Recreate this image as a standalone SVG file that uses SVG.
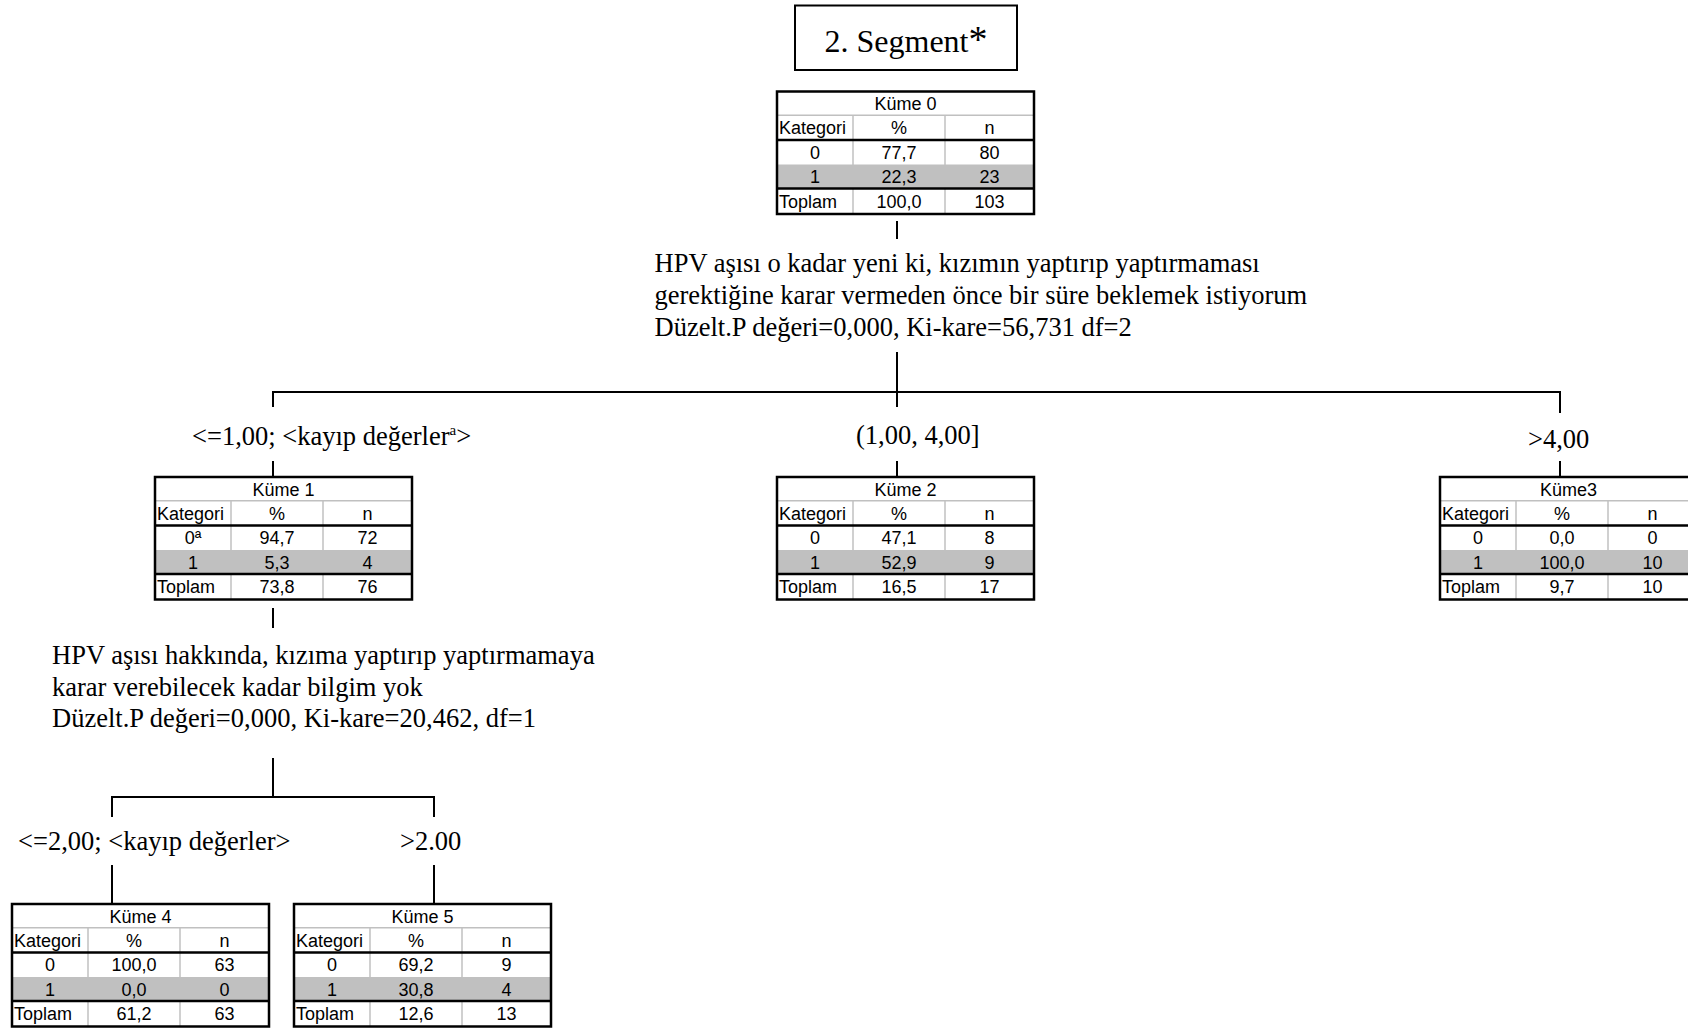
<svg xmlns="http://www.w3.org/2000/svg" xmlns:xlink="http://www.w3.org/1999/xlink" width="1688" height="1028" viewBox="0 0 1688 1028">
  <style>
    .t { font-family: "Liberation Sans", Arial, sans-serif; font-size: 18px; fill: #000; }
    .c { text-anchor: middle; }
    .s { font-family: "Liberation Serif", "Times New Roman", serif; font-size: 26.5px; fill: #000; }
    .ln { stroke: #000; stroke-width: 2; fill: none; }
    .thin { stroke: #c0c0c0; stroke-width: 1.5; }
    .thick { stroke: #000; stroke-width: 2.5; }
  </style>
  <defs>
    <!-- cluster table frame: header, column titles, two category rows, total -->
    <g id="frame">
      <rect x="0" y="0" width="257" height="122.5" fill="#fff"/>
      <rect x="0" y="73" width="257" height="24" fill="#c0c0c0"/>
      <line class="thin" x1="0" y1="23.7" x2="257" y2="23.7"/>
      <line class="thin" x1="76" y1="23.7" x2="76" y2="122.5"/>
      <line class="thin" x1="168" y1="23.7" x2="168" y2="122.5"/>
      <line class="thick" x1="0" y1="48.4" x2="257" y2="48.4"/>
      <line class="thick" x1="0" y1="97" x2="257" y2="97"/>
      <rect x="0" y="0" width="257" height="122.5" fill="none" stroke="#000" stroke-width="2.5"/>
    </g>
  </defs>

  <!-- title -->
  <g id="title">
    <rect x="795" y="5.5" width="222" height="64.5" fill="#fff" stroke="#000" stroke-width="2"/>
    <text x="906" y="52" text-anchor="middle" font-family="Liberation Serif, Times New Roman, serif" font-size="32">2. Segment<tspan font-size="38">*</tspan></text>
  </g>

  <!-- connectors -->
  <g id="connectors">
    <line class="ln" x1="897" y1="221" x2="897" y2="239"/>
    <line class="ln" x1="897" y1="352" x2="897" y2="392"/>
    <line class="ln" x1="272" y1="392" x2="1561" y2="392"/>
    <line class="ln" x1="273" y1="392" x2="273" y2="407"/>
    <line class="ln" x1="897" y1="392" x2="897" y2="407"/>
    <line class="ln" x1="1560" y1="392" x2="1560" y2="413"/>
    <line class="ln" x1="273" y1="461" x2="273" y2="477"/>
    <line class="ln" x1="897" y1="461" x2="897" y2="477"/>
    <line class="ln" x1="1560" y1="461" x2="1560" y2="477"/>
    <line class="ln" x1="273" y1="608" x2="273" y2="628"/>
    <line class="ln" x1="273" y1="758" x2="273" y2="797"/>
    <line class="ln" x1="111" y1="797" x2="435" y2="797"/>
    <line class="ln" x1="112" y1="797" x2="112" y2="817"/>
    <line class="ln" x1="434" y1="797" x2="434" y2="817"/>
    <line class="ln" x1="112" y1="865" x2="112" y2="904"/>
    <line class="ln" x1="434" y1="865" x2="434" y2="904"/>
  </g>

  <!-- split on the first predictor -->
  <g id="split-0">
    <text class="s" x="654.5" y="272">HPV aşısı o kadar yeni ki, kızımın yaptırıp yaptırmaması</text>
    <text class="s" x="654.5" y="304">gerektiğine karar vermeden önce bir süre beklemek istiyorum</text>
    <text class="s" x="654.5" y="336">Düzelt.P değeri=0,000, Ki-kare=56,731 df=2</text>
  </g>

  <!-- branch labels -->
  <g id="labels">
    <text class="s" x="192" y="445">&lt;=1,00; &lt;kayıp değerler<tspan font-size="15" dy="-10">a</tspan><tspan dy="10">&gt;</tspan></text>
    <text class="s" x="856" y="444">(1,00, 4,00]</text>
    <text class="s" x="1528" y="448">&gt;4,00</text>
    <text class="s" x="18" y="850">&lt;=2,00; &lt;kayıp değerler&gt;</text>
    <text class="s" x="400" y="850">&gt;2.00</text>
  </g>

  <!-- root cluster -->
  <g id="node-kume0" transform="translate(777,91.5)">
    <use xlink:href="#frame" href="#frame"/>
    <text class="t c" x="128.5" y="18.5">Küme 0</text>
    <text class="t" x="2" y="42.5">Kategori</text>
    <text class="t c" x="122" y="42.5">%</text>
    <text class="t c" x="212.5" y="42.5">n</text>
    <text class="t c" x="38" y="67">0</text>
    <text class="t c" x="122" y="67">77,7</text>
    <text class="t c" x="212.5" y="67">80</text>
    <text class="t c" x="38" y="91.5">1</text>
    <text class="t c" x="122" y="91.5">22,3</text>
    <text class="t c" x="212.5" y="91.5">23</text>
    <text class="t" x="2" y="116">Toplam</text>
    <text class="t c" x="122" y="116">100,0</text>
    <text class="t c" x="212.5" y="116">103</text>
  </g>

  <g id="node-kume1" transform="translate(155,477)">
    <use xlink:href="#frame" href="#frame"/>
    <text class="t c" x="128.5" y="18.5">Küme 1</text>
    <text class="t" x="2" y="42.5">Kategori</text>
    <text class="t c" x="122" y="42.5">%</text>
    <text class="t c" x="212.5" y="42.5">n</text>
    <text class="t c" x="38" y="67">0ª</text>
    <text class="t c" x="122" y="67">94,7</text>
    <text class="t c" x="212.5" y="67">72</text>
    <text class="t c" x="38" y="91.5">1</text>
    <text class="t c" x="122" y="91.5">5,3</text>
    <text class="t c" x="212.5" y="91.5">4</text>
    <text class="t" x="2" y="116">Toplam</text>
    <text class="t c" x="122" y="116">73,8</text>
    <text class="t c" x="212.5" y="116">76</text>
  </g>

  <g id="node-kume2" transform="translate(777,477)">
    <use xlink:href="#frame" href="#frame"/>
    <text class="t c" x="128.5" y="18.5">Küme 2</text>
    <text class="t" x="2" y="42.5">Kategori</text>
    <text class="t c" x="122" y="42.5">%</text>
    <text class="t c" x="212.5" y="42.5">n</text>
    <text class="t c" x="38" y="67">0</text>
    <text class="t c" x="122" y="67">47,1</text>
    <text class="t c" x="212.5" y="67">8</text>
    <text class="t c" x="38" y="91.5">1</text>
    <text class="t c" x="122" y="91.5">52,9</text>
    <text class="t c" x="212.5" y="91.5">9</text>
    <text class="t" x="2" y="116">Toplam</text>
    <text class="t c" x="122" y="116">16,5</text>
    <text class="t c" x="212.5" y="116">17</text>
  </g>

  <g id="node-kume3" transform="translate(1440,477)">
    <use xlink:href="#frame" href="#frame"/>
    <text class="t c" x="128.5" y="18.5">Küme3</text>
    <text class="t" x="2" y="42.5">Kategori</text>
    <text class="t c" x="122" y="42.5">%</text>
    <text class="t c" x="212.5" y="42.5">n</text>
    <text class="t c" x="38" y="67">0</text>
    <text class="t c" x="122" y="67">0,0</text>
    <text class="t c" x="212.5" y="67">0</text>
    <text class="t c" x="38" y="91.5">1</text>
    <text class="t c" x="122" y="91.5">100,0</text>
    <text class="t c" x="212.5" y="91.5">10</text>
    <text class="t" x="2" y="116">Toplam</text>
    <text class="t c" x="122" y="116">9,7</text>
    <text class="t c" x="212.5" y="116">10</text>
  </g>

  <!-- split of cluster 1 on the second predictor -->
  <g id="split-1">
    <text class="s" x="52" y="664">HPV aşısı hakkında, kızıma yaptırıp yaptırmamaya</text>
    <text class="s" x="52" y="696">karar verebilecek kadar bilgim yok</text>
    <text class="s" x="52" y="727">Düzelt.P değeri=0,000, Ki-kare=20,462, df=1</text>
  </g>

  <g id="node-kume4" transform="translate(12,904)">
    <use xlink:href="#frame" href="#frame"/>
    <text class="t c" x="128.5" y="18.5">Küme 4</text>
    <text class="t" x="2" y="42.5">Kategori</text>
    <text class="t c" x="122" y="42.5">%</text>
    <text class="t c" x="212.5" y="42.5">n</text>
    <text class="t c" x="38" y="67">0</text>
    <text class="t c" x="122" y="67">100,0</text>
    <text class="t c" x="212.5" y="67">63</text>
    <text class="t c" x="38" y="91.5">1</text>
    <text class="t c" x="122" y="91.5">0,0</text>
    <text class="t c" x="212.5" y="91.5">0</text>
    <text class="t" x="2" y="116">Toplam</text>
    <text class="t c" x="122" y="116">61,2</text>
    <text class="t c" x="212.5" y="116">63</text>
  </g>

  <g id="node-kume5" transform="translate(294,904)">
    <use xlink:href="#frame" href="#frame"/>
    <text class="t c" x="128.5" y="18.5">Küme 5</text>
    <text class="t" x="2" y="42.5">Kategori</text>
    <text class="t c" x="122" y="42.5">%</text>
    <text class="t c" x="212.5" y="42.5">n</text>
    <text class="t c" x="38" y="67">0</text>
    <text class="t c" x="122" y="67">69,2</text>
    <text class="t c" x="212.5" y="67">9</text>
    <text class="t c" x="38" y="91.5">1</text>
    <text class="t c" x="122" y="91.5">30,8</text>
    <text class="t c" x="212.5" y="91.5">4</text>
    <text class="t" x="2" y="116">Toplam</text>
    <text class="t c" x="122" y="116">12,6</text>
    <text class="t c" x="212.5" y="116">13</text>
  </g>
</svg>
